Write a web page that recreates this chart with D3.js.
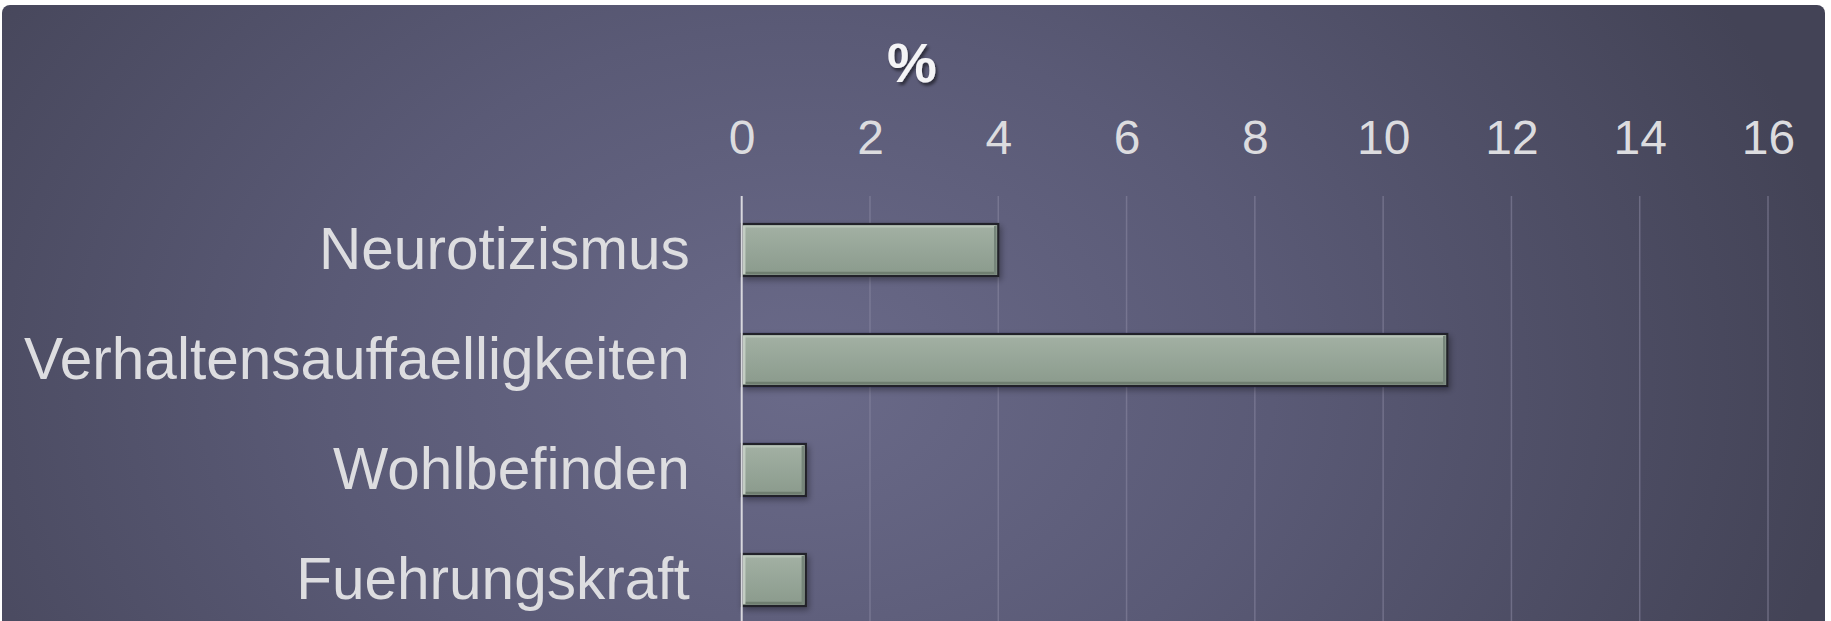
<!DOCTYPE html>
<html><head><meta charset="utf-8">
<script src="https://cdn.jsdelivr.net/npm/d3@7"></script>
<style>html,body{margin:0;padding:0;background:#fff;overflow:hidden}</style>
</head><body>
<svg id="chart" width="1831" height="621"></svg>
<script>
const categories = ["Neurotizismus","Verhaltensauffaelligkeiten","Wohlbefinden","Fuehrungskraft"];
const values = [4, 11, 1, 1];
const tickValues = [0,2,4,6,8,10,12,14,16];
const axisTitle = "%";

const W = 1831, H = 621;
const svg = d3.select("#chart");
const defs = svg.append("defs");

const bg = defs.append("radialGradient").attr("id","bg")
  .attr("gradientUnits","userSpaceOnUse").attr("cx",800).attr("cy",380).attr("r",1050)
  .attr("gradientTransform","translate(800,380) scale(1,0.75) translate(-800,-380)");
bg.append("stop").attr("offset","0").attr("stop-color","#6a6a89");
bg.append("stop").attr("offset","0.45").attr("stop-color","#5a5a76");
bg.append("stop").attr("offset","1").attr("stop-color","#434356");

const barG = defs.append("linearGradient").attr("id","barg").attr("x1",0).attr("y1",0).attr("x2",0).attr("y2",1);
barG.append("stop").attr("offset","0").attr("stop-color","#a3b1a4");
barG.append("stop").attr("offset","1").attr("stop-color","#8a9a8c");

const shadow = defs.append("filter").attr("id","sh").attr("x","-10%").attr("y","-30%").attr("width","130%").attr("height","180%");
shadow.append("feDropShadow").attr("dx",2).attr("dy",3).attr("stdDeviation",3).attr("flood-color","#000").attr("flood-opacity",0.35);
const tsh = defs.append("filter").attr("id","tsh");
tsh.append("feDropShadow").attr("dx",2).attr("dy",3).attr("stdDeviation",1.5).attr("flood-color","#000").attr("flood-opacity",0.5);

svg.append("rect").attr("x",2).attr("y",5).attr("width",1823).attr("height",640).attr("rx",8).attr("fill","url(#bg)");

const x = d3.scaleLinear().domain([0,16]).range([741.7,1768]);
const y = d3.scaleBand().domain(categories).range([195,635]).paddingInner(0.527).paddingOuter(0.264);

// gridlines
svg.append("g").selectAll("line").data(tickValues.slice(1)).join("line")
  .attr("x1",d=>x(d)).attr("x2",d=>x(d)).attr("y1",196).attr("y2",H)
  .attr("stroke","#8a88a2").attr("stroke-opacity",0.55).attr("stroke-width",1.5);

// top axis labels
const ax = svg.append("g").attr("transform","translate(0,154)")
  .call(d3.axisTop(x).tickValues(tickValues).tickSize(0).tickPadding(0));
ax.select(".domain").remove();
ax.selectAll("text").attr("font-family","Liberation Sans, Arial, sans-serif").attr("font-size",48)
  .attr("fill","#dcdcdf").attr("dy",0);

// title
svg.append("text").attr("x",912).attr("y",82).attr("text-anchor","middle")
  .attr("font-family","Liberation Sans, Arial, sans-serif").attr("font-weight","bold").attr("font-size",56)
  .attr("fill","#f4f4f6").attr("filter","url(#tsh)").text(axisTitle);

// category labels
const ay = svg.append("g").attr("transform",`translate(${x(0)},0)`)
  .call(d3.axisLeft(y).tickSize(0).tickPadding(52));
ay.select(".domain").remove();
ay.selectAll("text").attr("font-family","Liberation Sans, Arial, sans-serif").attr("font-size",58.5)
  .attr("fill","#dddde0").attr("dy","0.33em");

// bars
const bars = svg.append("g").selectAll("g").data(categories).join("g");
bars.append("rect")
  .attr("x",x(0)).attr("y",d=>y(d)).attr("width",(d,i)=>x(values[i])-x(0)).attr("height",y.bandwidth())
  .attr("fill","url(#barg)").attr("stroke","#23242a").attr("stroke-width",2.2).attr("filter","url(#sh)");
// bevel highlights
bars.append("line").attr("x1",x(0)+2).attr("x2",(d,i)=>x(values[i])-3)
  .attr("y1",d=>y(d)+2.5).attr("y2",d=>y(d)+2.5).attr("stroke","#b8c4b8").attr("stroke-width",2);
bars.append("line").attr("x1",x(0)+2).attr("x2",(d,i)=>x(values[i])-3)
  .attr("y1",d=>y(d)+y.bandwidth()-3).attr("y2",d=>y(d)+y.bandwidth()-3).attr("stroke","#6f7e70").attr("stroke-width",2.5);
bars.append("line").attr("x1",(d,i)=>x(values[i])-3).attr("x2",(d,i)=>x(values[i])-3)
  .attr("y1",d=>y(d)+2).attr("y2",d=>y(d)+y.bandwidth()-2).attr("stroke","#76857a").attr("stroke-width",2.5);
bars.append("line").attr("x1",x(0)+2.5).attr("x2",x(0)+2.5)
  .attr("y1",d=>y(d)+2).attr("y2",d=>y(d)+y.bandwidth()-2).attr("stroke","#c3cdc3").attr("stroke-width",2.5);

// zero axis line
svg.append("line").attr("x1",x(0)).attr("x2",x(0)).attr("y1",196).attr("y2",H)
  .attr("stroke","#d8d8de").attr("stroke-width",2);
</script>
</body></html>
